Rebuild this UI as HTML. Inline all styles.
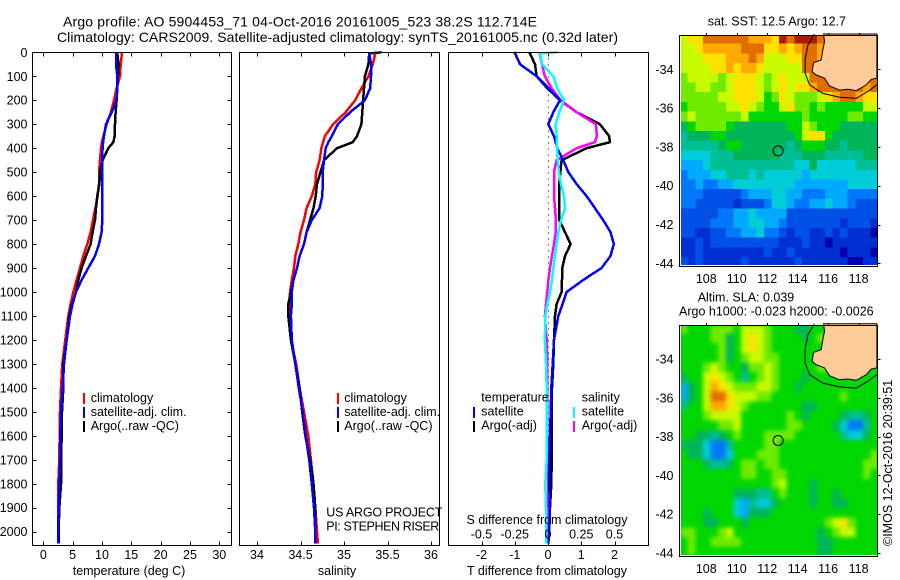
<!DOCTYPE html>
<html lang="en">
<head>
<meta charset="utf-8">
<title>Argo profile 5904453_71</title>
<style>
html,body{margin:0;padding:0;background:#fff;width:900px;height:580px;overflow:hidden}
svg{display:block}
text{font-family:"Liberation Sans",sans-serif;font-size:12.5px;fill:#000}
</style>
</head>
<body>
<svg id="chart" width="900" height="580" viewBox="0 0 900 580" xmlns="http://www.w3.org/2000/svg">
<defs>
<filter id="sla-smooth" filterUnits="userSpaceOnUse" x="660" y="310" width="240" height="260" color-interpolation-filters="sRGB"><feGaussianBlur stdDeviation="2.2"/></filter>
<clipPath id="sla-clip"><rect x="681" y="326" width="197" height="229"/></clipPath>
</defs>
</svg>
<script>
/* ---------- profile data ---------- */
const depths = [0,5,50,100,150,200,250,300,350,375,400,450,500,550,600,650,700,750,800,850,900,950,1000,1050,1100,1200,1300,1400,1500,1600,1700,1800,1900,2000,2050];

const tempClim = [13.4,13.4,13.2,13.07,12.5,12.05,11.53,10.8,10.23,10.0,9.83,9.66,9.49,9.49,9.26,8.86,8.47,8.07,7.5,6.82,6.25,5.68,5.11,4.66,4.26,3.75,3.24,3.01,2.84,2.78,2.73,2.56,2.56,2.56,2.56];
const tempSat = [12.39,12.39,12.39,12.61,12.61,12.5,11.65,10.68,10.34,10.2,10.11,10.0,10.0,10.06,10.06,10.06,10.06,9.94,9.49,8.81,7.67,6.53,5.57,5.0,4.55,3.98,3.52,3.3,3.01,2.9,2.84,2.73,2.61,2.56,2.56];
const tempArgo = [12.61,12.61,12.84,12.73,12.61,12.5,12.33,12.22,12.16,11.93,11.08,10.11,9.66,9.55,9.2,8.98,8.81,8.41,8.07,7.27,6.53,5.97,5.57,4.89,4.43,3.98,3.41,3.41,3.18,3.13,3.01,3.01,2.73,2.61,2.61];

const salClim = [35.36,35.36,35.33,35.28,35.2,35.13,35.02,34.875,34.78,34.76,34.74,34.72,34.68,34.67,34.63,34.57,34.54,34.5,34.475,34.44,34.425,34.4,34.38,34.37,34.37,34.39,34.45,34.49,34.54,34.59,34.62,34.65,34.67,34.69,34.7];
const salSat = [35.43,35.29,35.31,35.31,35.3,35.24,35.07,34.93,34.86,34.82,34.79,34.77,34.755,34.755,34.75,34.72,34.63,34.57,34.54,34.49,34.46,34.42,34.4,34.4,34.39,34.4,34.44,34.48,34.525,34.56,34.6,34.63,34.655,34.67,34.67];
const salArgo = [35.29,35.29,35.28,35.24,35.23,35.22,35.21,35.2,35.15,35.1,34.92,34.77,34.73,34.69,34.675,34.65,34.61,34.57,34.54,34.49,34.46,34.42,34.39,34.36,34.36,34.39,34.44,34.49,34.52,34.555,34.61,34.65,34.67,34.67,34.67];

const dTempSat = [-1.02,-0.99,-0.84,-0.34,0.02,0.36,0.16,0.01,0.18,0.23,0.28,0.46,0.61,0.86,1.16,1.41,1.66,1.88,1.98,1.88,1.61,1.06,0.56,0.44,0.31,0.18,0.14,0.1,0.08,0.06,0.04,0.04,0.06,0.04,0.01];
const dTempArgo = [-0.56,-0.54,-0.39,-0.34,-0.02,0.36,0.86,1.56,1.84,1.86,1.16,0.41,0.37,0.34,0.34,0.34,0.34,0.51,0.68,0.51,0.43,0.42,0.41,0.26,0.21,0.18,0.16,0.12,0.11,0.12,0.11,0.1,0.06,0.04,0.01];
const dSalSat = [0.07,-0.06,-0.043,0.04,0.07,0.12,0.085,0.058,0.065,0.065,0.068,0.073,0.083,0.098,0.12,0.128,0.098,0.078,0.065,0.053,0.04,0.03,0.015,-0.005,-0.02,-0.023,-0.015,-0.01,-0.01,-0.01,-0.01,-0.02,-0.015,-0.015,-0.015];
const dSalArgo = [-0.065,-0.063,-0.045,-0.023,0.028,0.095,0.216,0.36,0.368,0.353,0.216,0.065,0.045,0.045,0.045,0.053,0.06,0.058,0.045,0.03,0.015,0.003,-0.005,-0.015,-0.023,-0.01,-0.005,-0.005,-0.005,-0.005,0,0,0,0,0];

/* ---------- tick labels ---------- */
const depthTicks = [0,100,200,300,400,500,600,700,800,900,1000,1100,1200,1300,1400,1500,1600,1700,1800,1900,2000];
const tempTicks = [0,5,10,15,20,25,30];
const salTicks = [34,34.5,35,35.5,36];
const dTempTicks = [-2,-1,0,1,2];
const dSalTicks = [-0.5,-0.25,0,0.25,0.5];
const lonTicks = [108,110,112,114,116,118];
const latTicks = [34,36,38,40,42,44];

/* ---------- map data: colour-bin level of each half-degree cell, north to south ---------- */
const sstLevels = [
[10,11,11,13,13,13,13,13,13,12,12,12,11,14,13,14,14,14,13,13,13,13,13,13,13,13],
[10,10,11,12,12,12,12,12,13,13,13,11,11,12,11,12,13,13,12,12,12,12,12,12,12,12],
[10,10,10,11,11,11,12,12,12,13,12,10,10,10,11,11,13,13,12,12,12,12,12,12,12,12],
[10,10,10,10,11,11,12,11,12,12,11,10,10,10,10,10,13,13,13,13,13,13,13,13,13,13],
[9,10,10,10,10,9,10,11,11,11,10,9,10,11,10,10,10,13,13,13,13,13,13,13,13,13],
[9,9,10,10,9,9,10,11,11,11,10,9,10,11,10,11,11,12,13,13,13,13,13,13,12,13],
[9,9,9,9,9,10,10,11,11,11,10,8,9,11,10,9,9,9,10,11,12,13,13,12,11,11],
[8,9,9,9,9,9,10,10,11,10,9,8,8,10,11,9,9,8,9,8,8,8,8,8,10,10],
[9,10,9,9,9,9,9,9,10,8,8,8,8,8,8,8,9,8,8,8,8,8,9,9,8,8],
[7,8,9,9,9,9,8,7,7,7,7,7,7,7,8,8,10,9,8,8,8,7,7,7,7,7],
[6,7,7,7,8,8,7,7,7,7,7,7,7,7,7,8,10,11,11,8,7,7,7,7,7,7],
[6,6,6,6,6,7,8,8,7,7,7,7,7,7,6,7,8,8,8,7,7,6,7,7,7,7],
[5,5,5,5,6,6,6,7,7,7,7,7,7,6,6,6,7,7,7,6,6,6,6,6,7,7],
[4,4,4,5,6,6,6,6,6,6,6,6,6,6,6,5,5,7,5,5,5,5,5,6,6,6],
[3,4,4,4,5,5,6,6,6,5,6,5,5,5,5,5,4,5,5,5,5,5,5,5,5,5],
[3,3,4,3,3,4,4,5,5,5,5,5,5,5,5,4,4,4,4,4,4,4,5,5,5,5],
[3,3,3,2,2,2,2,2,3,4,4,4,5,5,4,4,3,3,3,4,4,4,3,3,3,3],
[3,3,2,2,2,2,2,1,2,2,2,3,5,5,4,3,3,4,4,5,4,4,3,2,2,2],
[2,2,2,2,2,3,3,4,4,5,4,4,4,4,2,2,2,2,2,2,2,2,2,2,2,2],
[2,2,2,2,3,3,3,4,4,5,5,4,4,3,2,2,2,2,2,2,2,1,2,2,2,1],
[2,2,1,1,2,2,3,3,4,4,5,3,3,2,1,2,2,1,1,2,1,2,1,1,1,0],
[1,1,2,1,2,2,2,2,2,2,2,2,2,1,1,1,2,1,1,0,1,1,1,1,1,1],
[1,1,2,1,1,1,1,1,1,1,1,2,1,1,2,1,1,1,1,1,1,0,1,1,1,0],
[2,1,2,1,1,1,1,1,2,1,1,1,1,1,1,2,1,1,1,1,1,1,0,0,1,1]
];
const slaLevels = [
[9,8,8,8,9,9,9,8,10,10,10,9,8,8,8,7,7,8,8,8,8,8,8,8,8,8],
[8,8,8,8,9,9,7,8,10,11,10,9,8,8,8,8,7,8,9,9,8,8,8,8,8,8],
[8,8,8,8,8,9,7,8,10,11,10,9,8,8,8,8,8,8,8,8,8,8,8,8,8,8],
[8,8,8,8,8,9,7,8,9,10,10,9,9,8,8,8,8,8,8,8,8,8,8,8,8,8],
[8,8,8,9,10,9,8,8,7,9,9,10,9,8,8,8,8,8,9,9,8,8,8,8,8,8],
[7,8,8,10,11,10,9,8,6,8,9,10,9,8,8,8,7,8,8,8,8,8,8,8,8,8],
[4,7,8,10,12,11,10,9,9,9,10,10,9,8,8,7,8,8,8,8,8,8,8,8,8,8],
[4,7,8,10,13,13,11,10,10,10,9,9,8,8,8,8,8,8,8,8,8,9,8,8,8,8],
[6,8,8,10,12,12,11,10,9,8,8,8,8,8,8,8,7,7,8,8,8,8,8,8,8,8],
[8,8,8,9,10,10,10,10,8,8,8,8,8,8,9,8,7,8,8,8,8,7,6,6,7,8],
[8,8,8,8,8,9,9,10,8,8,8,8,8,8,9,9,8,8,8,8,7,5,3,3,6,8],
[8,8,7,7,6,7,8,9,8,8,8,9,9,9,9,8,8,8,8,8,8,6,5,5,7,8],
[7,7,7,5,3,3,6,8,8,8,8,9,9,8,8,8,8,8,8,8,8,8,8,8,8,8],
[8,7,7,5,3,3,5,8,8,8,9,9,9,8,8,8,8,8,8,8,8,8,8,8,8,9],
[8,8,8,7,6,6,7,8,9,9,8,9,9,8,8,8,8,8,8,8,8,8,8,8,9,9],
[8,8,8,8,8,8,8,8,9,9,8,8,9,9,8,8,8,8,8,8,8,8,8,8,9,8],
[8,8,8,8,8,8,8,8,8,8,8,8,9,10,8,8,8,7,8,8,8,8,8,8,8,8],
[8,8,8,8,8,8,8,7,7,7,6,6,8,9,8,8,8,7,8,8,7,8,8,8,8,8],
[8,8,8,8,8,8,8,5,4,6,5,5,7,8,8,8,8,7,8,8,7,7,8,8,8,8],
[8,8,8,7,8,8,8,5,4,7,7,7,8,8,8,8,8,8,8,8,8,8,8,8,8,8],
[8,8,8,7,7,8,8,8,7,8,8,8,8,8,8,8,8,8,8,9,10,11,9,8,8,8],
[9,9,8,8,8,9,10,8,8,8,8,8,8,8,8,8,8,8,7,8,9,10,10,8,8,8],
[8,9,8,8,9,9,9,9,8,8,8,8,8,8,8,8,8,8,7,7,8,8,8,8,8,8],
[8,9,8,8,8,8,8,8,8,8,8,8,8,8,8,8,8,8,7,7,8,8,8,8,8,8]
];
const coastLon = [115.7,115.76,115.65,115.54,115.04,114.95,115.2,115.76,116.09,116.75,117.29,117.84,118.5,118.83,119.2,119.2];
const coastLat = [-32.18,-32.57,-33.0,-33.52,-33.66,-34.12,-34.29,-34.46,-34.86,-35.07,-35.03,-35.1,-34.81,-34.52,-34.46,-32.18];
const isobathLon = [115.1,114.67,114.49,114.49,114.78,115.65,116.75,117.84,118.6,119.2];
const isobathLat = [-32.18,-32.75,-33.5,-34.2,-34.8,-35.24,-35.44,-35.5,-35.15,-34.8];
const floatLon = 112.714;
const floatLat = -38.2;

/* ---------- axis functions ---------- */
function yDepth(d){return 52.3+0.2397*d;}
function xTemp(t){return 43.3+5.867*t;}
function xSal(s){return 257+87*(s-34);}
function xDTemp(v){return 548+33.25*v;}
function xDSal(v){return 548+133*v;}

const levelColors = ['#0000aa','#0030d2','#0050e6','#0078fa','#00aaff','#00cdd7','#00be96','#00b45a','#00d700','#6eeb00','#c8fa00','#ffe100','#ffaa00','#e16e00','#aa1e00'];
const NS = 'http://www.w3.org/2000/svg';
const svg = document.getElementById('chart');

function make(tag,parent){
  const el = document.createElementNS(NS,tag);
  parent.appendChild(el);
  return el;
}
function group(name){
  const g = make('g',svg);
  
  
  return g;
}
function label(parent,name,str,x,y,anchor,extra,size){
  const t = make('text',parent);
  
  
  t.setAttribute('x',x);
  t.setAttribute('y',y);
  if(anchor) t.setAttribute('text-anchor',anchor);
  if(extra) t.setAttribute('transform',extra);
  if(size) t.style.fontSize = size+'px';
  t.textContent = str;
  return t;
}
function seg(parent,name,x1,y1,x2,y2){
  const l = make('line',parent);
  
  
  l.setAttribute('x1',x1);l.setAttribute('y1',y1);l.setAttribute('x2',x2);l.setAttribute('y2',y2);
  l.setAttribute('stroke','#000');
  l.setAttribute('shape-rendering','crispEdges');
  return l;
}
function frame(parent,name,x,y,w,h){
  const r = make('rect',parent);
  
  
  r.setAttribute('x',x);r.setAttribute('y',y);r.setAttribute('width',w);r.setAttribute('height',h);
  r.setAttribute('fill','none');r.setAttribute('stroke','#000');
  r.setAttribute('shape-rendering','crispEdges');
  return r;
}
function profile(parent,name,xs,xFn,color,width){
  const p = make('polyline',parent);
  
  
  p.setAttribute('points',xs.map((v,i)=>xFn(v).toFixed(1)+','+yDepth(depths[i]).toFixed(1)).join(' '));
  p.setAttribute('fill','none');
  p.setAttribute('stroke',color);
  p.setAttribute('stroke-width',width);
  p.setAttribute('shape-rendering','crispEdges');
  return p;
}
function legendEntry(parent,name,barX,textX,baseline,color,str){
  const r = make('rect',parent);
  
  
  r.setAttribute('x',barX);r.setAttribute('y',Math.round(baseline)-9);r.setAttribute('width',2);r.setAttribute('height',11);
  r.setAttribute('fill',color);
  r.setAttribute('shape-rendering','crispEdges');
  label(parent,name+'-label',str,textX,baseline);
}

/* ---------- titles ---------- */
const titles = group('figure-titles');
const title1 = label(titles,'title-line-1','Argo profile: AO 5904453_71 04-Oct-2016 20161005_523 38.2S 112.714E',63,26.7,null,null,14);
title1.setAttribute('textLength',474);
const title2 = label(titles,'title-line-2','Climatology: CARS2009. Satellite-adjusted climatology: synTS_20161005.nc (0.32d later)',57,42.2,null,null,14);
title2.setAttribute('textLength',561);

/* ---------- panels ---------- */
const top_ = 52.5, bot_ = 545.5, lineW = 2.5;

/* temperature panel */
const p1 = group('temperature-panel');
profile(p1,'temperature-climatology-line',tempClim,xTemp,'#ff0000',lineW);
profile(p1,'temperature-argo-line',tempArgo,xTemp,'#000000',lineW);
profile(p1,'temperature-satellite-line',tempSat,xTemp,'#0000ff',lineW);
frame(p1,'temperature-plot-frame',32.5,top_,199,bot_-top_);
depthTicks.forEach(d=>{
  const y = Math.round(yDepth(d))+0.5;
  if(d>0) seg(p1,'depth-tick-left',32.5,y,36.5,y);
  seg(p1,'depth-tick-right',227.5,y,231.5,y);
  label(p1,'depth-tick-label',String(d),27.5,yDepth(d)+4.5,'end');
});
tempTicks.forEach(v=>{
  const x = Math.round(xTemp(v))+0.5;
  seg(p1,'temperature-tick-top',x,top_,x,top_+4);
  seg(p1,'temperature-tick-bottom',x,bot_-4,x,bot_);
  label(p1,'temperature-tick-label',String(v),xTemp(v),559,'middle');
});
label(p1,'temperature-axis-title','temperature (deg C)',129,575,'middle');
legendEntry(p1,'legend-climatology',83,90.7,402,'#ff0000','climatology');
legendEntry(p1,'legend-satellite-adj',83,90.7,416,'#0000ff','satellite-adj. clim.');
legendEntry(p1,'legend-argo',83,90.7,430,'#000000','Argo(..raw -QC)');

/* salinity panel */
const p2 = group('salinity-panel');
profile(p2,'salinity-climatology-line',salClim,xSal,'#ff0000',lineW);
profile(p2,'salinity-argo-line',salArgo,xSal,'#000000',lineW);
profile(p2,'salinity-satellite-line',salSat,xSal,'#0000ff',lineW);
frame(p2,'salinity-plot-frame',239.5,top_,200,bot_-top_);
salTicks.forEach(v=>{
  const x = Math.round(xSal(v))+0.5;
  seg(p2,'salinity-tick-top',x,top_,x,top_+4);
  seg(p2,'salinity-tick-bottom',x,bot_-4,x,bot_);
  label(p2,'salinity-tick-label',String(v),xSal(v),559,'middle');
});
label(p2,'salinity-axis-title','salinity',337,575,'middle');
legendEntry(p2,'legend-climatology',337,344.3,402,'#ff0000','climatology');
legendEntry(p2,'legend-satellite-adj',337,344.3,416,'#0000ff','satellite-adj. clim.');
legendEntry(p2,'legend-argo',337,344.3,430,'#000000','Argo(..raw -QC)');
const projectText = label(p2,'project-label','US ARGO PROJECT',326.3,516.7);
projectText.setAttribute('textLength',116);
const piText = label(p2,'pi-label','PI: STEPHEN RISER',326.3,530.7);
piText.setAttribute('textLength',113);

/* difference panel */
const p3 = group('difference-panel');
const zero = make('line',p3);


zero.setAttribute('x1',xDTemp(0)+0.5);zero.setAttribute('x2',xDTemp(0)+0.5);
zero.setAttribute('y1',top_);zero.setAttribute('y2',bot_);
zero.setAttribute('stroke','#000');zero.setAttribute('stroke-dasharray','1 5');
zero.setAttribute('shape-rendering','crispEdges');
profile(p3,'temperature-argo-difference-line',dTempArgo,xDTemp,'#000000',lineW);
profile(p3,'salinity-argo-difference-line',dSalArgo,xDSal,'#ff00ff',lineW);
profile(p3,'temperature-satellite-difference-line',dTempSat,xDTemp,'#0000ff',lineW);
profile(p3,'salinity-satellite-difference-line',dSalSat,xDSal,'#00ffff',lineW);
frame(p3,'difference-plot-frame',448.5,top_,200,bot_-top_);
dTempTicks.forEach(v=>{
  const x = Math.round(xDTemp(v))+0.5;
  seg(p3,'t-difference-tick-top',x,top_,x,top_+4);
  seg(p3,'t-difference-tick-bottom',x,bot_-4,x,bot_);
  label(p3,'t-difference-tick-label',String(v),xDTemp(v),559,'middle');
});
dSalTicks.forEach(v=>{
  label(p3,'s-difference-tick-label',String(v),xDSal(v),538.7,'middle');
});
label(p3,'t-difference-axis-title','T difference from climatology',547,575,'middle');
label(p3,'s-difference-axis-title','S difference from climatology',547,524,'middle');
label(p3,'legend-temperature-heading','temperature',481.3,401.7);
legendEntry(p3,'legend-temperature-satellite',473,481.3,415.7,'#0000ff','satellite');
legendEntry(p3,'legend-temperature-argo',473,481.3,429.7,'#000000','Argo(-adj)');
label(p3,'legend-salinity-heading','salinity',581.7,401.7);
legendEntry(p3,'legend-salinity-satellite',573,581.7,415.7,'#00ffff','satellite');
legendEntry(p3,'legend-salinity-argo',573,581.7,429.7,'#ff00ff','Argo(-adj)');

/* ---------- maps ---------- */
function drawMap(prefix,levels,lat34Y,frameTop,frameBot,lonLabelY,smooth){
  const g = group(prefix+'-map');
  const xLon = lon=>706.3+15.23*(lon-108);
  const yLat = lat=>lat34Y+19.4*(-lat-34);
  let cellParent = g;
  if(smooth){
    const clip = make('g',g);
    
    
    clip.setAttribute('clip-path','url(#sla-clip)');
    const under = make('rect',clip);
    
    
    under.setAttribute('x',681);under.setAttribute('y',frameTop);
    under.setAttribute('width',197);under.setAttribute('height',frameBot-frameTop);
    under.setAttribute('fill',levelColors[8]);
    cellParent = clip;
  }
  const cells = make('g',cellParent);
  
  
  if(smooth) cells.setAttribute('filter','url(#sla-smooth)');
  levels.forEach((row,r)=>{
    row.forEach((lv,c)=>{
      const x0 = Math.max(681,xLon(106.28+c*0.5));
      const x1 = Math.min(877.5,xLon(106.28+(c+1)*0.5));
      const y0 = Math.max(frameTop,yLat(-32.18-r*0.5));
      const y1 = Math.min(frameBot-1.5,yLat(-32.18-(r+1)*0.5));
      const cell = make('rect',cells);
      
      
      cell.setAttribute('x',x0.toFixed(2));
      cell.setAttribute('y',y0.toFixed(2));
      cell.setAttribute('width',(x1-x0+0.5).toFixed(2));
      cell.setAttribute('height',(y1-y0+0.5).toFixed(2));
      cell.setAttribute('fill',levelColors[lv]);
      cell.setAttribute('shape-rendering','crispEdges');
    });
  });
  const land = make('polygon',g);
  
  
  land.setAttribute('points',coastLon.map((v,i)=>xLon(v).toFixed(1)+','+yLat(coastLat[i]).toFixed(1)).join(' '));
  land.setAttribute('fill','#ffcc99');
  land.setAttribute('stroke','#000');
  const iso = make('polyline',g);
  
  
  iso.setAttribute('points',isobathLon.map((v,i)=>xLon(v).toFixed(1)+','+yLat(isobathLat[i]).toFixed(1)).join(' '));
  iso.setAttribute('fill','none');
  iso.setAttribute('stroke','#000');
  const dot = make('circle',g);
  
  
  dot.setAttribute('cx',xLon(floatLon).toFixed(1));
  dot.setAttribute('cy',yLat(floatLat).toFixed(1));
  dot.setAttribute('r',5);
  dot.setAttribute('fill','none');
  dot.setAttribute('stroke','#000');
  frame(g,prefix+'-map-frame',679.5,frameTop+0.5,198,frameBot-frameTop);
  lonTicks.forEach(lon=>{
    const x = Math.round(xLon(lon))+0.5;
    seg(g,prefix+'-longitude-tick',x,frameTop-2,x,frameTop+0.5);
    label(g,prefix+'-longitude-label',String(lon),xLon(lon),lonLabelY,'middle');
  });
  latTicks.forEach(lat=>{
    const y = Math.round(yLat(-lat))+0.5;
    seg(g,prefix+'-latitude-tick',877.5,y,880.5,y);
    label(g,prefix+'-latitude-label','-'+lat,673.5,yLat(-lat)+4.5,'end');
  });
  return g;
}
const m1 = drawMap('sst',sstLevels,69.3,35,266,283,false);
label(m1,'sst-map-title','sat. SST: 12.5 Argo: 12.7',707.7,25.7);
const m2 = drawMap('sla',slaLevels,359,325,556,573,true);
label(m2,'sla-map-title','Altim. SLA: 0.039',697.7,301.7);
label(m2,'argo-height-title','Argo h1000: -0.023 h2000: -0.0026',679,315.7);
label(svg,'imos-timestamp','©IMOS 12-Oct-2016 20:39:51',892,546,null,'rotate(-90 892 546)');
</script>
</body>
</html>
